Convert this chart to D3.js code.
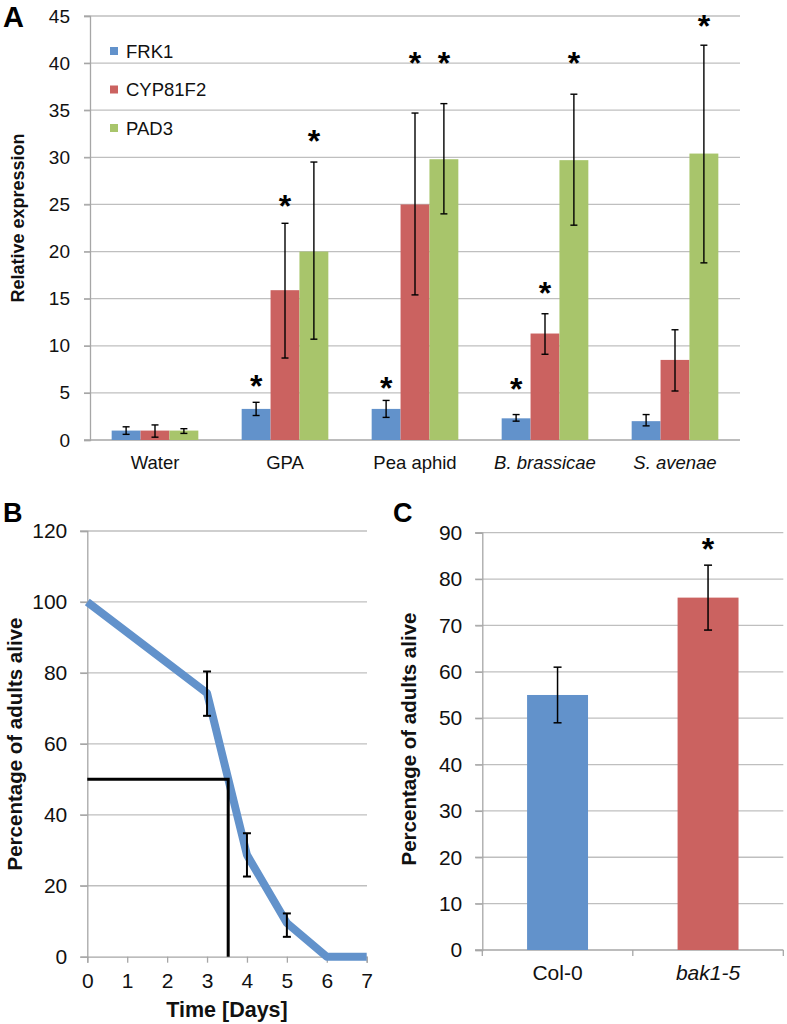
<!DOCTYPE html>
<html>
<head>
<meta charset="utf-8">
<script src="https://cdn.jsdelivr.net/npm/d3@7"></script>
<style>
  html, body { margin: 0; padding: 0; background: #fff; }
  svg { display: block; font-family: "Liberation Sans", Arial, sans-serif; }
</style>
</head>
<body>
<svg id="chart" width="787" height="1024"></svg>
<script>
// ---------- Panel A data ----------
const categoriesA = ["Water", "GPA", "Pea aphid", "B. brassicae", "S. avenae"];
const italicA = [false, false, false, true, true];
const seriesA = ["FRK1", "CYP81F2", "PAD3"];
const frk1 = [1.0, 3.3, 3.3, 2.3, 2.0];
const frk1Lo = [0.6, 2.6, 2.4, 2.0, 1.5];
const frk1Hi = [1.4, 4.0, 4.2, 2.7, 2.7];
const cyp = [1.0, 15.9, 25.0, 11.3, 8.5];
const cypLo = [0.3, 8.7, 15.4, 9.1, 5.2];
const cypHi = [1.6, 23.0, 34.7, 13.4, 11.7];
const pad3 = [1.0, 20.0, 29.8, 29.7, 30.4];
const pad3Lo = [0.7, 10.7, 24.0, 22.8, 18.8];
const pad3Hi = [1.2, 29.5, 35.7, 36.7, 41.9];
// asterisk level (value units), null = no asterisk
const frk1Star = [null, 6.4, 6.2, 6.05, null];
const cypStar = [null, 25.5, 40.7, 16.2, null];
const pad3Star = [null, 32.4, 40.7, 40.7, 44.6];
const ticksA = [0, 5, 10, 15, 20, 25, 30, 35, 40, 45];

// ---------- Panel B data ----------
const daysB = [0, 3, 4, 5, 6, 7];
const aliveB = [100, 74.3, 28.7, 9.5, 0, 0];
const errDaysB = [3, 4, 5];
const errLoB = [67.9, 22.6, 5.6];
const errHiB = [80.4, 34.8, 12.2];
const lt50 = { day: 3.53, pct: 50 };
const ticksBy = [0, 20, 40, 60, 80, 100, 120];
const ticksBx = [0, 1, 2, 3, 4, 5, 6, 7];

// ---------- Panel C data ----------
const categoriesC = ["Col-0", "bak1-5"];
const italicC = [false, true];
const valuesC = [55, 76];
const loC = [49, 69];
const hiC = [61, 83];
const starC = [null, 87.8];
const ticksC = [0, 10, 20, 30, 40, 50, 60, 70, 80, 90];

const BLUE = "#6292cb", RED = "#cb6260", GREEN = "#a8c56b";
const GRID = "#bfbfbf", AXIS = "#a6a6a6", TXT = "#111";
const colorsA = [BLUE, RED, GREEN];

const svg = d3.select("#chart");

// ================= Panel A =================
{
  const y = d3.scaleLinear().domain([0, 45]).range([440, 16]);
  const x = d3.scaleBand().domain(categoriesA).range([90, 740]).padding(0);
  const xs = d3.scaleBand().domain(seriesA).range([0, x.bandwidth()]).paddingInner(0).paddingOuter(0.75);
  const g = svg.append("g");

  g.append("g").selectAll("line").data(ticksA.filter(t => t > 0)).join("line")
    .attr("x1", 84).attr("x2", 740).attr("y1", d => y(d)).attr("y2", d => y(d))
    .attr("stroke", GRID).attr("stroke-width", 1.3);
  const ax = g.append("g").attr("transform", "translate(90,0)")
    .call(d3.axisLeft(y).tickValues(ticksA).tickSize(6).tickPadding(14));
  ax.select(".domain").attr("stroke", AXIS).attr("stroke-width", 1.3);
  ax.selectAll(".tick line").attr("stroke", AXIS).attr("stroke-width", 1.3);
  ax.selectAll(".tick text").attr("fill", TXT).style("font-size", "19px")
    .style("font-family", "'Liberation Sans', Arial, sans-serif");
  g.append("line").attr("x1", 84).attr("x2", 740).attr("y1", y(0)).attr("y2", y(0))
    .attr("stroke", AXIS).attr("stroke-width", 1.3);

  const vals = [frk1, cyp, pad3], los = [frk1Lo, cypLo, pad3Lo], his = [frk1Hi, cypHi, pad3Hi],
        stars = [frk1Star, cypStar, pad3Star];
  const rows = [];
  seriesA.forEach((s, si) => categoriesA.forEach((c, ci) => rows.push({
    s, si, c, v: vals[si][ci], lo: los[si][ci], hi: his[si][ci], star: stars[si][ci]
  })));
  const cx = d => x(d.c) + xs(d.s) + xs.bandwidth() / 2;

  g.append("g").selectAll("rect").data(rows).join("rect")
    .attr("x", d => x(d.c) + xs(d.s)).attr("width", xs.bandwidth())
    .attr("y", d => y(d.v)).attr("height", d => y(0) - y(d.v))
    .attr("fill", d => colorsA[d.si]);

  const eb = g.append("g").attr("stroke", "#000").attr("stroke-width", 1.4);
  eb.selectAll("line.v").data(rows).join("line").attr("class", "v")
    .attr("x1", cx).attr("x2", cx).attr("y1", d => y(d.lo)).attr("y2", d => y(d.hi));
  eb.selectAll("line.t").data(rows).join("line").attr("class", "t")
    .attr("x1", d => cx(d) - 3.5).attr("x2", d => cx(d) + 3.5).attr("y1", d => y(d.hi)).attr("y2", d => y(d.hi));
  eb.selectAll("line.b").data(rows).join("line").attr("class", "b")
    .attr("x1", d => cx(d) - 3.5).attr("x2", d => cx(d) + 3.5).attr("y1", d => y(d.lo)).attr("y2", d => y(d.lo));

  g.append("g").selectAll("text").data(rows.filter(d => d.star !== null)).join("text")
    .attr("x", cx).attr("y", d => y(d.star) + 17)
    .attr("text-anchor", "middle").attr("font-weight", "bold").attr("font-size", 32)
    .attr("fill", "#000").text("*");

  g.append("g").selectAll("text").data(categoriesA).join("text")
    .attr("x", d => x(d) + x.bandwidth() / 2).attr("y", 469)
    .attr("text-anchor", "middle").attr("font-size", 18.5).attr("fill", TXT)
    .attr("font-style", (d, i) => italicA[i] ? "italic" : "normal").text(d => d);

  const lg = g.append("g").selectAll("g").data(seriesA).join("g")
    .attr("transform", (d, i) => `translate(110,${51 + i * 38.5})`);
  lg.append("rect").attr("x", 0).attr("y", -4).attr("width", 8).attr("height", 8)
    .attr("fill", (d, i) => colorsA[i]);
  lg.append("text").attr("x", 16).attr("y", 6.5).attr("font-size", 18.5).attr("fill", TXT).text(d => d);

  g.append("text").attr("transform", "translate(24,218) rotate(-90)")
    .attr("text-anchor", "middle").attr("font-weight", "bold").attr("font-size", 18)
    .attr("fill", TXT).text("Relative expression");

  svg.append("text").attr("x", 3).attr("y", 27).attr("font-weight", "bold").attr("font-size", 29)
    .attr("fill", "#000").text("A");
}

// ================= Panel B =================
{
  const x = d3.scaleLinear().domain([0, 7]).range([87.3, 366.7]);
  const y = d3.scaleLinear().domain([0, 120]).range([956.7, 531]);
  const g = svg.append("g");

  g.append("g").selectAll("line").data(ticksBy.filter(t => t > 0)).join("line")
    .attr("x1", 80).attr("x2", 367).attr("y1", d => y(d)).attr("y2", d => y(d))
    .attr("stroke", GRID).attr("stroke-width", 1.3);
  const ay = g.append("g").attr("transform", `translate(${x(0)},0)`)
    .call(d3.axisLeft(y).tickValues(ticksBy).tickSize(7).tickPadding(13));
  ay.select(".domain").attr("stroke", AXIS).attr("stroke-width", 1.3);
  ay.selectAll(".tick line").attr("stroke", AXIS).attr("stroke-width", 1.3);
  ay.selectAll(".tick text").attr("fill", TXT).style("font-size", "21px")
    .style("font-family", "'Liberation Sans', Arial, sans-serif");
  const ax = g.append("g").attr("transform", `translate(0,${y(0)})`)
    .call(d3.axisBottom(x).tickValues(ticksBx).tickSize(6).tickPadding(10).tickFormat(d3.format("d")));
  ax.select(".domain").attr("stroke", AXIS).attr("stroke-width", 1.3);
  ax.selectAll(".tick line").attr("stroke", AXIS).attr("stroke-width", 1.3);
  ax.selectAll(".tick text").attr("fill", TXT).style("font-size", "21px")
    .style("font-family", "'Liberation Sans', Arial, sans-serif");

  const line = d3.line().x((d, i) => x(daysB[i])).y(d => y(d));
  g.append("path").datum(aliveB).attr("d", line).attr("fill", "none")
    .attr("stroke", BLUE).attr("stroke-width", 8).attr("stroke-linejoin", "round");

  g.append("path")
    .attr("d", `M${x(0)},${y(lt50.pct)}H${x(lt50.day)}V${y(0)}`)
    .attr("fill", "none").attr("stroke", "#000").attr("stroke-width", 3);

  const eb = g.append("g").attr("stroke", "#000").attr("stroke-width", 2);
  errDaysB.forEach((d, i) => {
    eb.append("line").attr("x1", x(d)).attr("x2", x(d)).attr("y1", y(errLoB[i])).attr("y2", y(errHiB[i]));
    eb.append("line").attr("x1", x(d) - 4).attr("x2", x(d) + 4).attr("y1", y(errLoB[i])).attr("y2", y(errLoB[i]));
    eb.append("line").attr("x1", x(d) - 4).attr("x2", x(d) + 4).attr("y1", y(errHiB[i])).attr("y2", y(errHiB[i]));
  });

  g.append("text").attr("x", (x(0) + x(7)) / 2).attr("y", 1017)
    .attr("text-anchor", "middle").attr("font-weight", "bold").attr("font-size", 21.5)
    .attr("fill", TXT).text("Time [Days]");
  g.append("text").attr("transform", "translate(22,744) rotate(-90)")
    .attr("text-anchor", "middle").attr("font-weight", "bold").attr("font-size", 20.5)
    .attr("fill", TXT).text("Percentage of adults alive");

  svg.append("text").attr("x", 3).attr("y", 522).attr("font-weight", "bold").attr("font-size", 27)
    .attr("fill", "#000").text("B");
}

// ================= Panel C =================
{
  const x = d3.scaleBand().domain(categoriesC).range([482.3, 783.3]).paddingInner(0.595).paddingOuter(0.2975);
  const y = d3.scaleLinear().domain([0, 90]).range([950, 532.7]);
  const g = svg.append("g");

  g.append("g").selectAll("line").data(ticksC.filter(t => t > 0)).join("line")
    .attr("x1", 475).attr("x2", 783.3).attr("y1", d => y(d)).attr("y2", d => y(d))
    .attr("stroke", GRID).attr("stroke-width", 1.3);
  const ay = g.append("g").attr("transform", "translate(482.3,0)")
    .call(d3.axisLeft(y).tickValues(ticksC).tickSize(7).tickPadding(13));
  ay.select(".domain").attr("stroke", AXIS).attr("stroke-width", 1.3);
  ay.selectAll(".tick line").attr("stroke", AXIS).attr("stroke-width", 1.3);
  ay.selectAll(".tick text").attr("fill", TXT).style("font-size", "21px")
    .style("font-family", "'Liberation Sans', Arial, sans-serif");

  g.append("line").attr("x1", 475).attr("x2", 783.3).attr("y1", y(0)).attr("y2", y(0))
    .attr("stroke", AXIS).attr("stroke-width", 1.3);
  const step = x.step();
  const bounds = d3.range(categoriesC.length + 1).map(i => 482.3 + i * step);
  g.append("g").selectAll("line").data(bounds).join("line")
    .attr("x1", d => d).attr("x2", d => d).attr("y1", y(0)).attr("y2", y(0) + 6)
    .attr("stroke", AXIS).attr("stroke-width", 1.3);

  const colorsC = [BLUE, RED];
  g.append("g").selectAll("rect").data(categoriesC).join("rect")
    .attr("x", d => x(d)).attr("width", x.bandwidth())
    .attr("y", (d, i) => y(valuesC[i])).attr("height", (d, i) => y(0) - y(valuesC[i]))
    .attr("fill", (d, i) => colorsC[i]);

  const eb = g.append("g").attr("stroke", "#000").attr("stroke-width", 1.5);
  categoriesC.forEach((c, i) => {
    const cx = x(c) + x.bandwidth() / 2;
    eb.append("line").attr("x1", cx).attr("x2", cx).attr("y1", y(loC[i])).attr("y2", y(hiC[i]));
    eb.append("line").attr("x1", cx - 4).attr("x2", cx + 4).attr("y1", y(loC[i])).attr("y2", y(loC[i]));
    eb.append("line").attr("x1", cx - 4).attr("x2", cx + 4).attr("y1", y(hiC[i])).attr("y2", y(hiC[i]));
    if (starC[i] !== null) {
      g.append("text").attr("x", cx).attr("y", y(starC[i]) + 17).attr("text-anchor", "middle")
        .attr("font-weight", "bold").attr("font-size", 32).attr("fill", "#000").text("*");
    }
  });

  g.append("g").selectAll("text").data(categoriesC).join("text")
    .attr("x", d => x(d) + x.bandwidth() / 2).attr("y", 980)
    .attr("text-anchor", "middle").attr("font-size", 21).attr("fill", TXT)
    .attr("font-style", (d, i) => italicC[i] ? "italic" : "normal").text(d => d);

  g.append("text").attr("transform", "translate(416,739) rotate(-90)")
    .attr("text-anchor", "middle").attr("font-weight", "bold").attr("font-size", 20.5)
    .attr("fill", TXT).text("Percentage of adults alive");

  svg.append("text").attr("x", 393).attr("y", 522).attr("font-weight", "bold").attr("font-size", 27)
    .attr("fill", "#000").text("C");
}
</script>
</body>
</html>
